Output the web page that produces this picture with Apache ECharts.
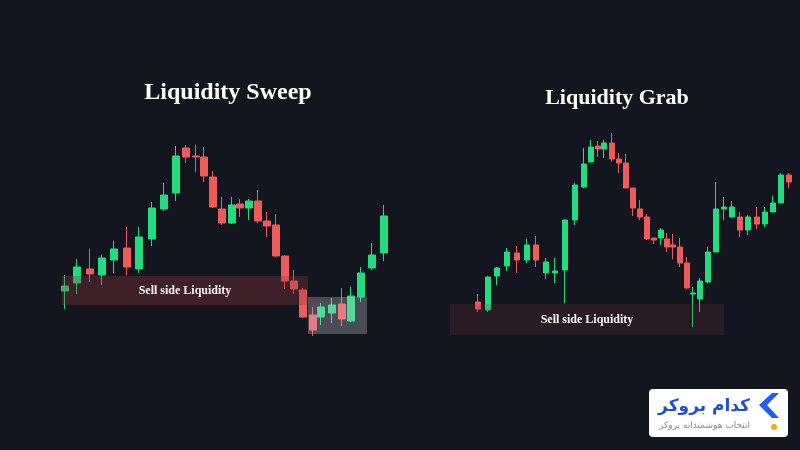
<!DOCTYPE html>
<html>
<head>
<meta charset="utf-8">
<script src="https://cdn.jsdelivr.net/npm/echarts@6/dist/echarts.min.js"></script>
<style>
  html, body { margin: 0; padding: 0; background: #14161f; }
  #chart { width: 800px; height: 450px; }
</style>
</head>
<body>
<div id="chart"></div>
<script>
  // Liquidity Sweep (left panel)
  var sweepT     = [1.0, 2.2, 3.5, 4.7, 5.9, 7.2, 8.4, 9.7, 10.9, 12.1, 13.1, 14.1, 14.9, 15.8, 16.7, 17.7, 18.5, 19.4, 20.3, 21.2, 22.1, 23.0, 23.9, 24.8, 25.8, 26.6, 27.7, 28.7, 29.6, 30.6, 31.7, 32.9];
  var sweepOpen  = [54, 62, 76, 70, 85, 97, 76, 106, 136, 152, 197, 189, 188, 168, 136, 122, 141, 137, 144, 124, 120, 89, 64, 55, 30, 28, 32, 41, 24, 48, 77, 92];
  var sweepClose = [59, 78, 71, 87, 96, 78, 108, 137, 150, 189, 188, 188, 169, 138, 122, 140, 137, 144, 124, 119, 89, 64, 56, 28, 15, 38, 40, 26, 49, 72, 90, 129];
  var sweepLow   = [36, 51, 63, 60, 72, 70, 72, 99, 134, 144, 182, 173, 163, 137, 120, 121, 128, 125, 122, 108, 88, 56, 51, 27, 9, 20, 22, 19, 23, 43, 75, 84];
  var sweepHigh  = [70, 86, 96, 90, 104, 118, 118, 143, 162, 199, 200, 200, 198, 174, 148, 148, 146, 146, 155, 133, 131, 90, 75, 57, 38, 42, 47, 57, 58, 78, 102, 140];

  // Liquidity Grab (right panel)
  var grabT     = [1.3, 2.3, 3.2, 4.2, 5.2, 6.2, 7.1, 8.1, 9.0, 10.0, 11.0, 11.9, 12.6, 13.3, 13.9, 14.7, 15.4, 16.1, 16.8, 17.5, 18.2, 18.9, 19.6, 20.2, 20.8, 21.5, 22.2, 22.8, 23.5, 24.3, 25.1, 25.9, 26.7, 27.5, 28.3, 29.2, 30.0, 30.8, 31.6, 32.4];
  var grabOpen  = [43, 35, 69, 79, 92, 85, 100, 72, 72, 75, 125, 158, 183, 199, 196, 202, 186, 182, 157, 136, 128, 107, 107, 106, 100, 98, 82, 51, 46, 63, 93, 136, 128, 128, 115, 128, 121, 133, 142, 170];
  var grabClose = [36, 68, 77, 93, 85, 100, 85, 83, 74, 125, 160, 181, 198, 196, 202, 186, 182, 157, 137, 128, 106, 105, 115, 98, 98, 82, 57, 52, 64, 93, 136, 138, 138, 115, 128, 121, 133, 142, 170, 163];
  var grabLow   = [33, 33, 60, 74, 72, 82, 78, 66, 62, 42, 120, 157, 183, 188, 187, 183, 172, 157, 129, 125, 105, 101, 100, 93, 86, 78, 56, 18, 33, 62, 93, 125, 127, 108, 110, 116, 118, 133, 142, 157];
  var grabHigh  = [51, 69, 78, 97, 99, 106, 109, 87, 87, 125, 162, 197, 205, 204, 205, 212, 192, 191, 157, 145, 131, 107, 117, 112, 111, 107, 88, 58, 67, 98, 163, 148, 144, 133, 130, 138, 138, 149, 172, 172];

  // zones: [xFrom, xTo, priceLow, priceHigh]
  var sweepZones = [[0.7, 25.3, 40, 69], [25.3, 31.2, 11, 48]];
  var sweepZoneText = ['Sell side Liquidity', ''];
  var grabZones = [[-1.5, 25.9, 10, 41]];
  var grabZoneText = ['Sell side Liquidity'];

  var up = '#23dc80', down = '#ee5b5b';

  function candles(t, o, c, l, h) {
    return t.map(function (x, i) { return [x, o[i], c[i], l[i], h[i]]; });
  }

  function zoneSeries(idx, zones, texts, fills) {
    return {
      type: 'custom',
      xAxisIndex: idx,
      yAxisIndex: idx,
      z: 5,
      silent: true,
      encode: { x: [0, 1], y: [2, 3] },
      data: zones,
      renderItem: function (params, api) {
        var p0 = api.coord([api.value(0), api.value(3)]);
        var p1 = api.coord([api.value(1), api.value(2)]);
        return {
          type: 'group',
          children: [
            {
              type: 'rect',
              shape: { x: p0[0], y: p0[1], width: p1[0] - p0[0], height: p1[1] - p0[1] },
              style: { fill: fills[params.dataIndex] }
            },
            {
              type: 'text',
              style: {
                text: texts[params.dataIndex],
                x: (p0[0] + p1[0]) / 2,
                y: (p0[1] + p1[1]) / 2,
                align: 'center',
                verticalAlign: 'middle',
                fill: '#f2f2f2',
                font: 'bold 12px "Liberation Serif", serif'
              }
            }
          ]
        };
      }
    };
  }

  var chartDom = document.getElementById('chart');
  var myChart = echarts.init(chartDom);

  var axisCommon = {
    axisLine: { show: false },
    axisTick: { show: false },
    axisLabel: { show: false },
    splitLine: { show: false }
  };

  var option = {
    backgroundColor: '#14161f',
    animation: false,
    grid: [
      { left: 55, top: 130, width: 340, height: 215 },
      { left: 445, top: 120, width: 355, height: 225 }
    ],
    xAxis: [
      Object.assign({ type: 'value', gridIndex: 0, min: 0, max: 34 }, axisCommon),
      Object.assign({ type: 'value', gridIndex: 1, min: -2, max: 33.5 }, axisCommon)
    ],
    yAxis: [
      Object.assign({ type: 'value', gridIndex: 0, min: 0, max: 215 }, axisCommon),
      Object.assign({ type: 'value', gridIndex: 1, min: 0, max: 225 }, axisCommon)
    ],
    graphic: [
      {
        type: 'text', position: [228, 93],
        style: {
          text: 'Liquidity Sweep', align: 'center', verticalAlign: 'middle',
          fill: '#ffffff', font: 'bold 24px "Liberation Serif", serif'
        }
      },
      {
        type: 'text', position: [617, 98],
        style: {
          text: 'Liquidity Grab', align: 'center', verticalAlign: 'middle',
          fill: '#ffffff', font: 'bold 22px "Liberation Serif", serif'
        }
      },
      // brand badge
      {
        type: 'rect', shape: { x: 649, y: 389, width: 139, height: 48, r: 4 },
        style: { fill: '#ffffff' }
      },
      {
        type: 'text', position: [750, 407],
        style: {
          text: 'کدام بروکر', align: 'right', verticalAlign: 'middle',
          fill: '#1d4fd6', font: 'bold 17px "DejaVu Sans", sans-serif'
        }
      },
      {
        type: 'text', position: [750, 426],
        style: {
          text: 'انتخاب هوشمندانه بروکر', align: 'right', verticalAlign: 'middle',
          fill: '#8c8c8c', font: '9px "DejaVu Sans", sans-serif'
        }
      },
      {
        type: 'polygon',
        shape: { points: [[772, 393], [759, 405], [772, 418], [779, 418], [767, 405], [779, 393]] },
        style: { fill: '#1f5ef0' }
      },
      {
        type: 'circle', shape: { cx: 774, cy: 427, r: 3 },
        style: { fill: '#f5a623' }
      }
    ],
    series: [
      {
        type: 'candlestick',
        xAxisIndex: 0, yAxisIndex: 0,
        barWidth: 8,
        encode: { x: 0, y: [1, 2, 3, 4] },
        data: candles(sweepT, sweepOpen, sweepClose, sweepLow, sweepHigh),
        itemStyle: { color: up, color0: down, borderColor: up, borderColor0: down, borderWidth: 1 }
      },
      {
        type: 'candlestick',
        xAxisIndex: 1, yAxisIndex: 1,
        barWidth: 6,
        encode: { x: 0, y: [1, 2, 3, 4] },
        data: candles(grabT, grabOpen, grabClose, grabLow, grabHigh),
        itemStyle: { color: up, color0: down, borderColor: up, borderColor0: down, borderWidth: 1 }
      },
      zoneSeries(0, sweepZones, sweepZoneText, ['rgba(150,55,60,0.32)', 'rgba(205,205,215,0.3)']),
      zoneSeries(1, grabZones, grabZoneText, ['rgba(120,50,60,0.2)'])
    ]
  };

  option && myChart.setOption(option);
</script>
</body>
</html>
